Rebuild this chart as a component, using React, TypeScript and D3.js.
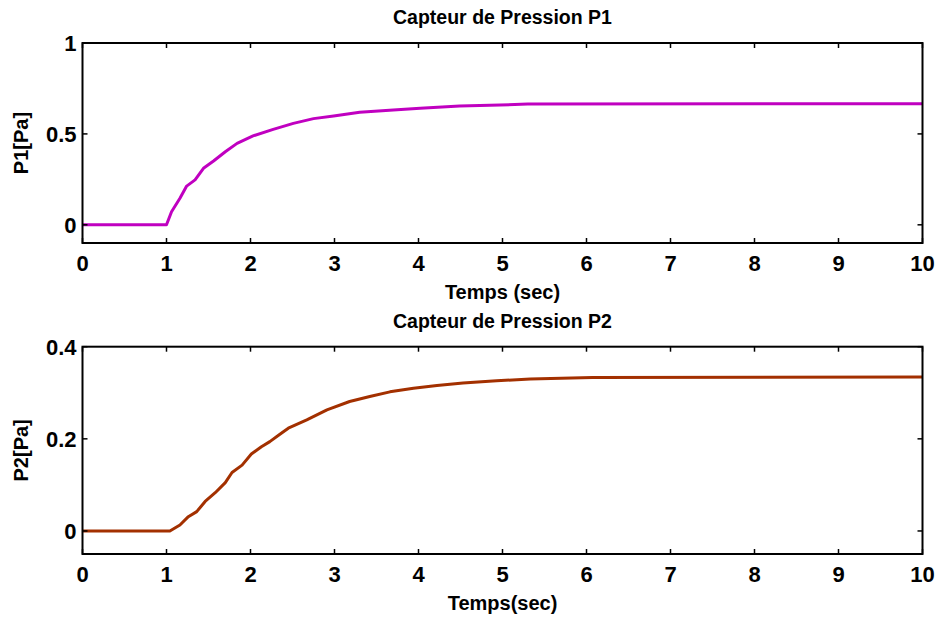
import React from "react";
import * as d3 from "d3";

const W = 941;
const H = 619;

const xTicks = [0, 1, 2, 3, 4, 5, 6, 7, 8, 9, 10];
const p1YTicks = [0, 0.5, 1];
const p2YTicks = [0, 0.2, 0.4];

const p1Time = [0, 1, 1.06, 1.16, 1.24, 1.34, 1.44, 1.56, 1.7, 1.84, 2.03, 2.27, 2.51, 2.75, 2.99, 3.3, 3.7, 4.02, 4.49, 4.73, 5.3, 10];
const p1Value = [0, 0, 0.072, 0.146, 0.213, 0.247, 0.311, 0.351, 0.402, 0.448, 0.489, 0.525, 0.558, 0.584, 0.599, 0.619, 0.632, 0.641, 0.654, 0.656, 0.664, 0.666];

const p2Time = [0, 1.04, 1.16, 1.26, 1.36, 1.46, 1.58, 1.7, 1.78, 1.9, 2.01, 2.13, 2.23, 2.35, 2.45, 2.67, 2.91, 3.18, 3.42, 3.66, 3.94, 4.22, 4.53, 4.93, 5.33, 6.07, 10];
const p2Value = [0, 0, 0.013, 0.031, 0.042, 0.064, 0.083, 0.105, 0.127, 0.143, 0.167, 0.183, 0.194, 0.21, 0.223, 0.241, 0.263, 0.281, 0.292, 0.302, 0.31, 0.316, 0.321, 0.326, 0.33, 0.333, 0.334];

const FONT = "'Liberation Sans', Arial, Helvetica, sans-serif";

type PanelProps = {
  top: number;
  bottom: number;
  yDomain: [number, number];
  yTicks: number[];
  times: number[];
  values: number[];
  color: string;
  title: string;
  xLabel: string;
  yLabel: string;
};

const LEFT = 82.5;
const RIGHT = 922.5;

function Panel(p: PanelProps) {
  const x = d3.scaleLinear().domain([0, 10]).range([LEFT, RIGHT]);
  const y = d3.scaleLinear().domain(p.yDomain).range([p.bottom, p.top]);
  const pts = p.times.map((t, i) => [t, p.values[i]] as [number, number]);
  const line = d3
    .line<[number, number]>()
    .x((d) => x(d[0]))
    .y((d) => y(d[1]));
  const tl = 5;
  const cx = (LEFT + RIGHT) / 2;
  return (
    <g>
      <text x={cx} y={p.top - 19} textAnchor="middle" fontFamily={FONT} fontWeight="bold" fontSize={19.5} fill="#000">
        {p.title}
      </text>
      <path d={line(pts) || ""} fill="none" stroke={p.color} strokeWidth={3} strokeLinejoin="round" />
      <rect x={LEFT} y={p.top} width={RIGHT - LEFT} height={p.bottom - p.top} fill="none" stroke="#000" strokeWidth={2} />
      {xTicks.map((t) => (
        <g key={"x" + t}>
          <line x1={x(t)} x2={x(t)} y1={p.bottom} y2={p.bottom - tl} stroke="#000" strokeWidth={1.5} />
          <line x1={x(t)} x2={x(t)} y1={p.top} y2={p.top + tl} stroke="#000" strokeWidth={1.5} />
          <text x={x(t)} y={p.bottom + 28} textAnchor="middle" fontFamily={FONT} fontWeight="bold" fontSize={22} fill="#000">
            {t}
          </text>
        </g>
      ))}
      {p.yTicks.map((v) => (
        <g key={"y" + v}>
          <line x1={LEFT} x2={LEFT + tl} y1={y(v)} y2={y(v)} stroke="#000" strokeWidth={1.5} />
          <line x1={RIGHT} x2={RIGHT - tl} y1={y(v)} y2={y(v)} stroke="#000" strokeWidth={1.5} />
          <text x={LEFT - 6} y={y(v) + 8} textAnchor="end" fontFamily={FONT} fontWeight="bold" fontSize={22} fill="#000">
            {String(v)}
          </text>
        </g>
      ))}
      <text x={cx} y={p.bottom + 56} textAnchor="middle" fontFamily={FONT} fontWeight="bold" fontSize={20} fill="#000">
        {p.xLabel}
      </text>
      <text
        transform={`translate(28,${(p.top + p.bottom) / 2}) rotate(-90)`}
        textAnchor="middle"
        fontFamily={FONT}
        fontWeight="bold"
        fontSize={20}
        fill="#000"
      >
        {p.yLabel}
      </text>
    </g>
  );
}

export default function App() {
  return (
    <svg width={W} height={H} style={{ position: "absolute", left: 0, top: 0, background: "#fff" }}>
      <rect x={0} y={0} width={W} height={H} fill="#fff" />
      <Panel
        top={43}
        bottom={243}
        yDomain={[-0.1, 1]}
        yTicks={p1YTicks}
        times={p1Time}
        values={p1Value}
        color="#c000c0"
        title="Capteur de Pression P1"
        xLabel="Temps (sec)"
        yLabel="P1[Pa]"
      />
      <Panel
        top={346.7}
        bottom={554}
        yDomain={[-0.05, 0.4]}
        yTicks={p2YTicks}
        times={p2Time}
        values={p2Value}
        color="#a33000"
        title="Capteur de Pression P2"
        xLabel="Temps(sec)"
        yLabel="P2[Pa]"
      />
    </svg>
  );
}
